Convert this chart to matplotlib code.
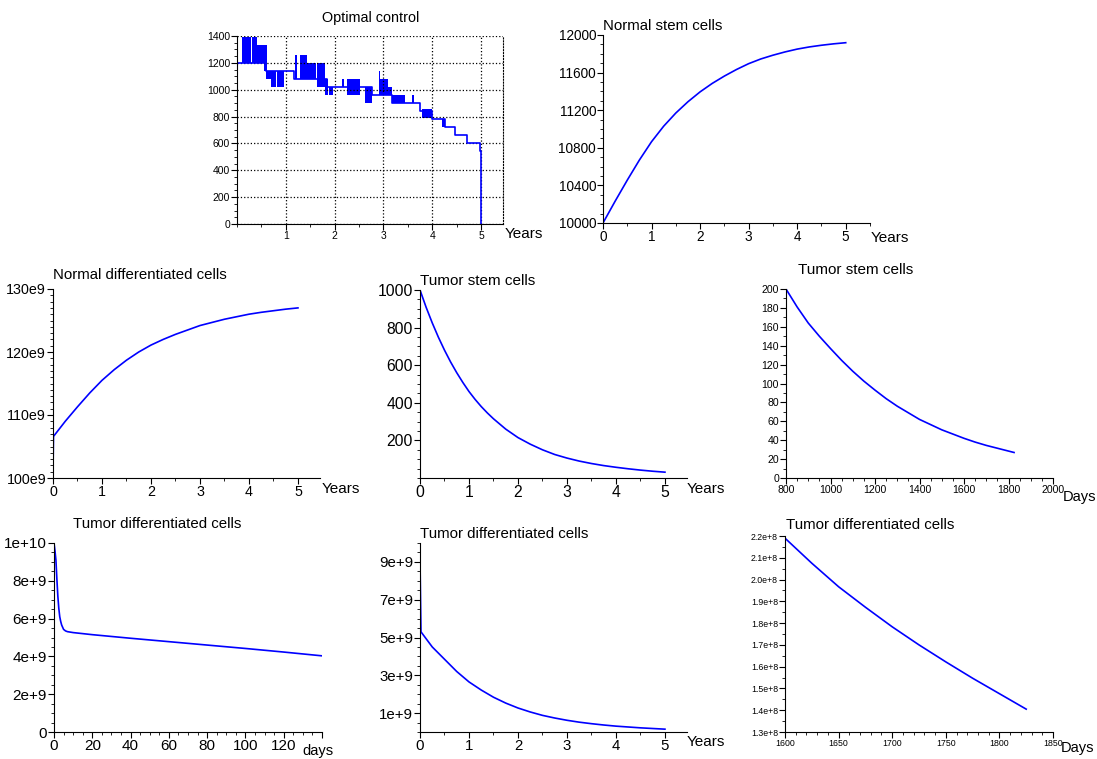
import matplotlib
matplotlib.use("Agg")
import matplotlib.pyplot as plt
from matplotlib.ticker import MultipleLocator

plt.rcParams['font.family'] = ['Liberation Sans', 'DejaVu Sans']

W, H = 1097, 759
BLUE = '#0000ff'

# ---- data ----
# optimal control: main step path (years, dose) and chattering blocks
ctrl_t = [0, 0.60, 1.17, 1.84, 2.76, 3.17, 3.75, 4.00, 4.26, 4.47, 4.72, 4.97, 5.0, 5.0]
ctrl_v = [1200, 1140, 1080, 1020, 960, 900, 840, 780, 720, 660, 600, 540, 340, 0]
band_t0 = [0.10, 0.19, 0.30, 0.41, 0.55, 0.60, 0.70, 0.81, 0.89, 1.19, 1.29, 1.44, 1.63, 1.64,
           1.80, 1.88, 2.15, 2.26, 2.62, 2.90, 2.94, 3.10, 3.17, 3.59, 3.80, 4.20]
band_t1 = [0.18, 0.29, 0.41, 0.62, 0.62, 0.70, 0.80, 0.88, 0.97, 1.23, 1.43, 1.62, 1.81, 1.80,
           1.86, 1.96, 2.19, 2.52, 2.76, 2.93, 3.10, 3.17, 3.45, 3.62, 4.00, 4.27]
band_lo = [1200, 1200, 1200, 1200, 1140, 1080, 1020, 1020, 1020, 1080, 1080, 1080, 1080, 1020,
           960, 960, 1020, 960, 900, 960, 960, 960, 900, 900, 790, 720]
band_hi = [1390, 1390, 1390, 1330, 1200, 1140, 1140, 1140, 1140, 1260, 1260, 1200, 1200, 1080,
           1080, 1020, 1080, 1080, 1020, 1140, 1080, 1020, 960, 960, 855, 780]

years = [0, 0.25, 0.5, 0.75, 1.0, 1.25, 1.5, 1.75, 2.0, 2.25, 2.5, 2.75, 3.0,
         3.25, 3.5, 3.75, 4.0, 4.25, 4.5, 4.75, 5.0]
normal_stem = [10000, 10232, 10456, 10670, 10865, 11030, 11170, 11290, 11395, 11485, 11563,
               11633, 11695, 11745, 11785, 11820, 11850, 11873, 11891, 11906, 11918]

nd_years = [0, 0.01] + years[1:]
normal_diff = [101.0, 106.6, 109.0, 111.3, 113.5, 115.5, 117.2, 118.7, 120.0, 121.1, 122.0,
               122.8, 123.5, 124.2, 124.7, 125.2, 125.6, 126.0, 126.3, 126.55, 126.8, 127.0]  # e9

ts_years = [0, 0.125, 0.25, 0.375, 0.5, 0.625, 0.75, 0.875, 1.0, 1.125, 1.25, 1.375, 1.5,
            1.75, 2.0, 2.25, 2.5, 2.75, 3.0, 3.25, 3.5, 3.75, 4.0, 4.25, 4.5, 4.75, 5.0]
tumor_stem = [1000, 908, 825, 749, 680, 617, 560, 508, 460, 418, 380, 346, 315, 260, 215,
              180, 150, 125, 106, 90, 77, 66, 57, 49, 42, 36, 31]

ts_days = [800, 850, 900, 950, 1000, 1050, 1100, 1150, 1200, 1250, 1300, 1350, 1400,
           1450, 1500, 1550, 1600, 1650, 1700, 1750, 1800, 1825]
ts_vals = [200, 181, 164, 150, 137, 124.5, 113, 102.5, 93, 84, 76, 69, 62, 56.5, 51,
           46.5, 42, 38, 34.5, 31.5, 28.5, 27]

td_days = [0, 0.5, 1, 1.5, 2, 2.5, 3, 3.5, 4, 5, 6, 7, 10, 20, 40, 60, 80, 100, 120, 140]
td_vals = [10.0, 9.6, 9.1, 8.1, 7.2, 6.55, 6.1, 5.85, 5.66, 5.43, 5.35, 5.31, 5.26, 5.15,
           4.96, 4.78, 4.60, 4.42, 4.23, 4.03]  # e9

tdy_years = [0, 0.02, 0.25, 0.5, 0.75, 1.0, 1.25, 1.5, 1.75, 2.0, 2.25, 2.5, 2.75, 3.0,
             3.25, 3.5, 3.75, 4.0, 4.5, 5.0]
tdy_vals = [9.1, 5.3, 4.5, 3.85, 3.2, 2.65, 2.22, 1.84, 1.53, 1.27, 1.06, 0.88, 0.74, 0.62,
            0.52, 0.44, 0.37, 0.31, 0.22, 0.15]  # e9

tdl_days = [1600, 1625, 1650, 1675, 1700, 1725, 1750, 1775, 1800, 1825]
tdl_vals = [2.19, 2.075, 1.967, 1.873, 1.783, 1.700, 1.622, 1.547, 1.476, 1.405]  # e8

fig = plt.figure(figsize=(W / 100, H / 100), dpi=100)


def px_axes(l, t, r, b):
    ax = fig.add_axes([l / W, 1 - b / H, (r - l) / W, (b - t) / H])
    ax.spines['top'].set_visible(False)
    ax.spines['right'].set_visible(False)
    return ax


def px_text(x, y, s, size=10.8, ha='left'):
    fig.text(x / W, 1 - y / H, s, fontsize=size, ha=ha, va='center')


def style(ax, size):
    ax.tick_params(which='major', direction='out', length=4, width=0.8, labelsize=size, pad=1)
    ax.tick_params(which='minor', direction='out', length=2, width=0.6)


# 1 optimal control
ax = px_axes(237, 36, 503, 224)
ax.bar(band_t0, [h - l for h, l in zip(band_hi, band_lo)], width=[b - a for a, b in zip(band_t0, band_t1)],
       bottom=band_lo, align='edge', color=BLUE, linewidth=0)
ax.step(ctrl_t, ctrl_v, where='post', color=BLUE, lw=1.2)
ax.set_xlim(0, 5.45)
ax.set_ylim(0, 1400)
ax.set_xticks([1, 2, 3, 4, 5])
ax.set_yticks(range(0, 1401, 200))
ax.xaxis.set_minor_locator(MultipleLocator(0.5))
ax.yaxis.set_minor_locator(MultipleLocator(50))
ax.grid(True, color='black', linestyle=':', lw=0.9)
ax.spines['right'].set_visible(True)
ax.spines['right'].set_linestyle(':')
style(ax, 7.5)
px_text(371, 18, 'Optimal control', 10.4, 'center')
px_text(505, 234, 'Years', 11)

# 2 normal stem cells
ax = px_axes(603, 35, 870, 223)
ax.plot(years, normal_stem, color=BLUE, lw=1.2)
ax.set_xlim(0, 5.5)
ax.set_ylim(10000, 12000)
ax.set_xticks(range(6))
ax.set_yticks(range(10000, 12001, 400))
ax.xaxis.set_minor_locator(MultipleLocator(0.5))
ax.yaxis.set_minor_locator(MultipleLocator(100))
style(ax, 9.8)
px_text(603, 26, 'Normal stem cells')
px_text(871, 238, 'Years', 11)

# 3 normal differentiated cells
ax = px_axes(53, 289, 320, 478)
ax.plot(nd_years, normal_diff, color=BLUE, lw=1.2)
ax.set_xlim(0, 5.45)
ax.set_ylim(100, 130)
ax.set_xticks(range(6))
ax.set_yticks([100, 110, 120, 130], ['100e9', '110e9', '120e9', '130e9'])
ax.xaxis.set_minor_locator(MultipleLocator(0.5))
ax.yaxis.set_minor_locator(MultipleLocator(1))
style(ax, 10.3)
px_text(53, 275, 'Normal differentiated cells')
px_text(322, 489, 'Years', 11)

# 4 tumor stem cells (years)
ax = px_axes(420, 290, 687, 478)
ax.plot(ts_years, tumor_stem, color=BLUE, lw=1.2)
ax.set_xlim(0, 5.45)
ax.set_ylim(0, 1000)
ax.set_xticks(range(6))
ax.set_yticks(range(200, 1001, 200))
ax.xaxis.set_minor_locator(MultipleLocator(0.5))
ax.yaxis.set_minor_locator(MultipleLocator(50))
style(ax, 11.3)
px_text(420, 281, 'Tumor stem cells', 11)
px_text(687, 489, 'Years', 11)

# 5 tumor stem cells (days)
ax = px_axes(786, 289, 1053, 478)
ax.plot(ts_days, ts_vals, color=BLUE, lw=1.2)
ax.set_xlim(800, 2000)
ax.set_ylim(0, 200)
ax.set_xticks(range(800, 2001, 200))
ax.set_yticks(range(0, 201, 20))
ax.xaxis.set_minor_locator(MultipleLocator(50))
ax.yaxis.set_minor_locator(MultipleLocator(10))
style(ax, 7.6)
px_text(856, 270, 'Tumor stem cells', 11, 'center')
px_text(1063, 497, 'Days', 10.5)

# 6 tumor differentiated cells (days)
ax = px_axes(54, 543, 322, 732)
ax.plot(td_days, td_vals, color=BLUE, lw=1.2)
ax.set_xlim(0, 140)
ax.set_ylim(0, 10)
ax.set_xticks(range(0, 141, 20), [str(v) for v in range(0, 121, 20)] + [''])
ax.set_yticks([0, 2, 4, 6, 8, 10], ['0', '2e+9', '4e+9', '6e+9', '8e+9', '1e+10'])
ax.xaxis.set_minor_locator(MultipleLocator(5))
ax.yaxis.set_minor_locator(MultipleLocator(0.5))
style(ax, 11)
px_text(157, 524, 'Tumor differentiated cells', 10.8, 'center')
px_text(302, 751, 'days', 10.5)

# 7 tumor differentiated cells (years)
ax = px_axes(420, 543, 687, 732)
ax.plot(tdy_years, tdy_vals, color=BLUE, lw=1.2)
ax.set_xlim(0, 5.45)
ax.set_ylim(0, 10)
ax.set_xticks(range(6))
ax.set_yticks([1, 3, 5, 7, 9], ['1e+9', '3e+9', '5e+9', '7e+9', '9e+9'])
ax.xaxis.set_minor_locator(MultipleLocator(0.5))
ax.yaxis.set_minor_locator(MultipleLocator(0.5))
style(ax, 10.8)
px_text(420, 534, 'Tumor differentiated cells')
px_text(687, 742, 'Years', 11)

# 8 tumor differentiated cells (late days)
ax = px_axes(785, 536, 1053, 732)
ax.plot(tdl_days, tdl_vals, color=BLUE, lw=1.2)
ax.set_xlim(1600, 1850)
ax.set_ylim(1.3, 2.2)
ax.set_xticks(range(1600, 1851, 50))
yt = [1.3, 1.4, 1.5, 1.6, 1.7, 1.8, 1.9, 2.0, 2.1, 2.2]
ax.set_yticks(yt, ['%.1fe+8' % v for v in yt])
ax.xaxis.set_minor_locator(MultipleLocator(10))
ax.yaxis.set_minor_locator(MultipleLocator(0.05))
style(ax, 6.3)
px_text(870, 525, 'Tumor differentiated cells', 10.8, 'center')
px_text(1061, 748, 'Days', 10.5)

fig.savefig('out.png', dpi=100)
